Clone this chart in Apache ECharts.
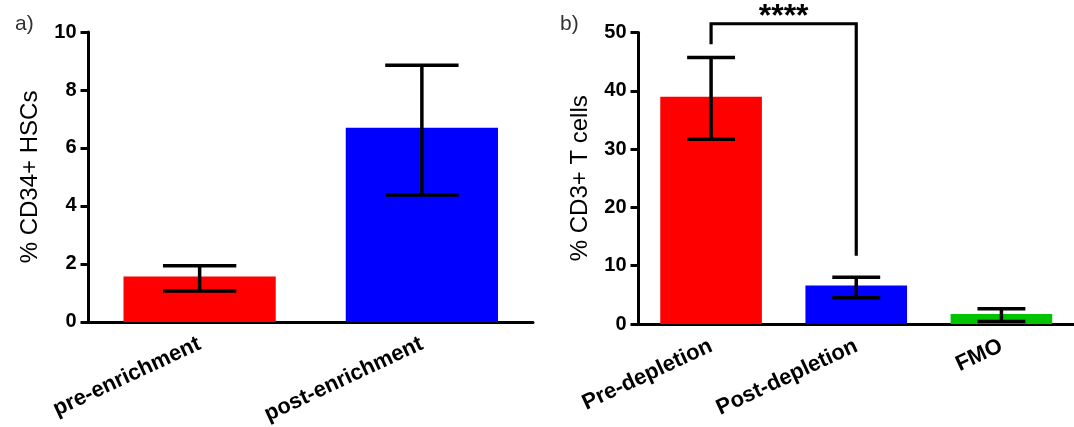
<!DOCTYPE html>
<html>
<head>
<meta charset="utf-8">
<script src="https://cdn.jsdelivr.net/npm/echarts@6/dist/echarts.min.js"></script>
<style>
  html, body { margin: 0; padding: 0; background: #fff; }
  #chart { width: 1074px; height: 427px; }
</style>
</head>
<body>
<div id="chart"></div>
<script>
// Panel a: CD34+ HSC fraction before/after enrichment
const catsA = ['pre-enrichment', 'post-enrichment'];
const meanA = [1.57, 6.70];
const lowA = [1.07, 4.38];
const highA = [1.94, 8.85];
const colorsA = ['#ff0000', '#0000ff'];

// Panel b: CD3+ T cell fraction before/after depletion, with FMO control
const catsB = ['Pre-depletion', 'Post-depletion', 'FMO'];
const meanB = [39.0, 6.6, 1.7];
const lowB = [31.7, 4.5, 0.45];
const highB = [45.7, 8.0, 2.6];
const colorsB = ['#ff0000', '#0000ff', '#00c400'];

// Significance bracket between Pre- and Post-depletion
const sigFrom = 0, sigTo = 1;
const sigFromEnd = 48.0, sigToEnd = 11.7, sigLevel = 51.5;
const sigLabel = '****';

const FONT = "'Liberation Sans', Arial, sans-serif";

function errorBarItem(params, api) {
  const x = api.value(0);
  const lo = api.coord([x, api.value(1)]);
  const hi = api.coord([x, api.value(2)]);
  const half = api.size([1, 0])[0] * 0.165;
  const st = { stroke: '#000', lineWidth: 3.5, fill: null };
  return {
    type: 'group',
    children: [
      { type: 'line', shape: { x1: lo[0], y1: lo[1], x2: hi[0], y2: hi[1] }, style: st },
      { type: 'line', shape: { x1: hi[0] - half, y1: hi[1], x2: hi[0] + half, y2: hi[1] }, style: st },
      { type: 'line', shape: { x1: lo[0] - half, y1: lo[1], x2: lo[0] + half, y2: lo[1] }, style: st }
    ]
  };
}

function bracketItem(params, api) {
  const a = api.coord([api.value(0), api.value(1)]);
  const b = api.coord([api.value(2), api.value(3)]);
  const topY = api.coord([api.value(0), api.value(4)])[1];
  return {
    type: 'group',
    children: [
      {
        type: 'polyline',
        shape: { points: [[a[0], a[1]], [a[0], topY], [b[0], topY], [b[0], b[1]]] },
        style: { stroke: '#000', lineWidth: 3.2, fill: null }
      },
      {
        type: 'text',
        style: {
          x: (a[0] + b[0]) / 2, y: topY - 23,
          text: sigLabel, align: 'center', verticalAlign: 'top',
          font: "bold 32px " + FONT, fill: '#000'
        }
      }
    ]
  };
}

function makeX(idx, cats) {
  return {
    type: 'category', gridIndex: idx, data: cats,
    axisLine: { lineStyle: { color: '#000', width: 3 } },
    axisTick: { alignWithLabel: true, length: 8, lineStyle: { color: '#000', width: 3 } },
    axisLabel: { rotate: 25, margin: 21, color: '#000', fontFamily: FONT, fontWeight: 'bold', fontSize: 22, interval: 0 }
  };
}

function makeY(idx, max, step, name) {
  return {
    type: 'value', gridIndex: idx, min: 0, max: max, interval: step,
    name: name, nameLocation: 'middle', nameGap: 46,
    nameTextStyle: { color: '#000', fontFamily: FONT, fontSize: 24 },
    axisLine: { show: true, lineStyle: { color: '#000', width: 3 } },
    axisTick: { show: true, length: 8, lineStyle: { color: '#000', width: 3 } },
    axisLabel: { margin: 12, color: '#000', fontFamily: FONT, fontWeight: 'bold', fontSize: 20 },
    splitLine: { show: false }
  };
}

const chart = echarts.init(document.getElementById('chart'), null, { renderer: 'canvas' });

chart.setOption({
  animation: false,
  backgroundColor: '#fff',
  title: [
    { text: 'a)', left: 10, top: 9, textStyle: { fontFamily: FONT, fontWeight: 'normal', fontSize: 21, color: '#333' } },
    { text: 'b)', left: 555, top: 9, textStyle: { fontFamily: FONT, fontWeight: 'normal', fontSize: 21, color: '#333' } }
  ],
  grid: [
    { left: 88.5, top: 32, right: 541, bottom: 103 },
    { left: 638.5, top: 32.5, right: -6, bottom: 103 }
  ],
  xAxis: [makeX(0, catsA), makeX(1, catsB)],
  yAxis: [makeY(0, 10, 2, '% CD34+ HSCs'), makeY(1, 50, 10, '% CD3+ T cells')],
  series: [
    {
      type: 'bar', xAxisIndex: 0, yAxisIndex: 0, barWidth: '68.5%',
      data: meanA.map((v, i) => ({ value: v, itemStyle: { color: colorsA[i] } }))
    },
    {
      type: 'custom', xAxisIndex: 0, yAxisIndex: 0, renderItem: errorBarItem, z: 5,
      data: catsA.map((c, i) => [i, lowA[i], highA[i]])
    },
    {
      type: 'bar', xAxisIndex: 1, yAxisIndex: 1, barWidth: '70%',
      data: meanB.map((v, i) => ({ value: v, itemStyle: { color: colorsB[i] } }))
    },
    {
      type: 'custom', xAxisIndex: 1, yAxisIndex: 1, renderItem: errorBarItem, z: 5,
      data: catsB.map((c, i) => [i, lowB[i], highB[i]])
    },
    {
      type: 'custom', xAxisIndex: 1, yAxisIndex: 1, renderItem: bracketItem, z: 6, clip: false,
      encode: { x: [0, 2], y: [1, 3] },
      data: [[sigFrom, sigFromEnd, sigTo, sigToEnd, sigLevel]]
    }
  ]
});
</script>
</body>
</html>
